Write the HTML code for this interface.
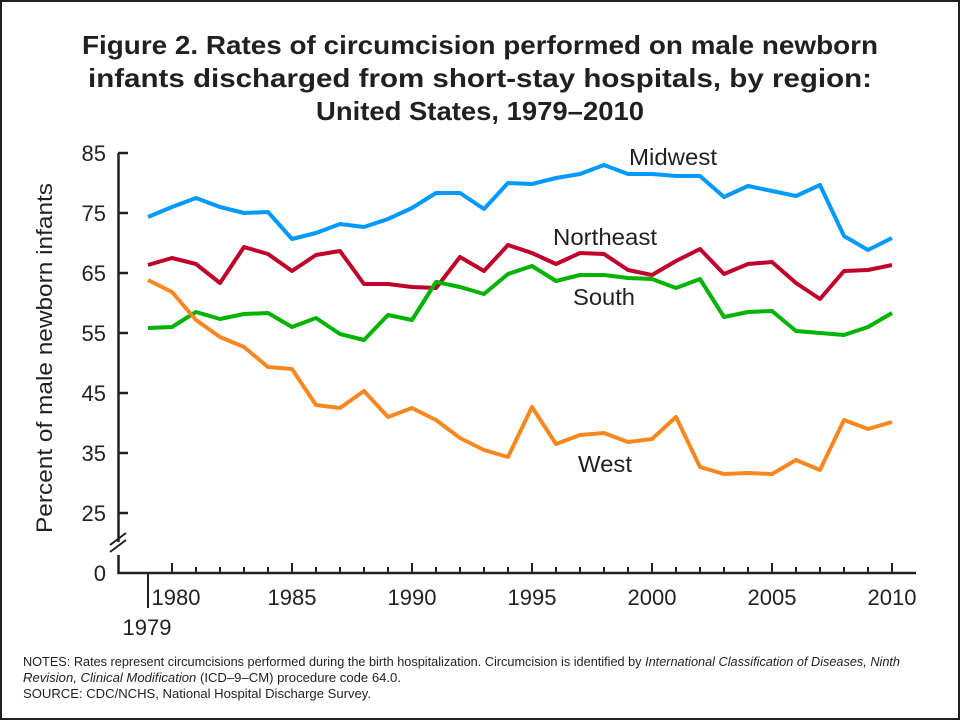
<!DOCTYPE html>
<html><head><meta charset="utf-8"><style>
body{margin:0;background:#fff}
svg{display:block}
text{font-family:"Liberation Sans",Arial,sans-serif;fill:#231f20}
</style></head><body>
<svg width="960" height="720" viewBox="0 0 960 720">
<rect x="1" y="1" width="958" height="718" fill="#fff" stroke="#231f20" stroke-width="2"/>
<g font-weight="bold" font-size="26" text-anchor="middle">
<text x="480" y="54" textLength="796" lengthAdjust="spacingAndGlyphs">Figure 2. Rates of circumcision performed on male newborn</text>
<text x="480" y="87" textLength="784" lengthAdjust="spacingAndGlyphs">infants discharged from short-stay hospitals, by region:</text>
<text x="480" y="120" textLength="328" lengthAdjust="spacingAndGlyphs">United States, 1979–2010</text>
</g>
<g stroke="#231f20" stroke-width="2.5" fill="none">
<path d="M118.5 153V542M118.5 555V573H916"/>
<path d="M110 545l16-12M110 552l16-12" stroke-width="2"/>
<path d="M118 153h10M118 213h10M118 273h10M118 333h10M118 393h10M118 453h10M118 513h10"/>
<path d="M148 573v35" stroke-width="2"/>
</g>
<g font-size="22" text-anchor="end">
<text x="106" y="161">85</text><text x="106" y="221">75</text><text x="106" y="281">65</text>
<text x="106" y="341">55</text><text x="106" y="401">45</text><text x="106" y="461">35</text>
<text x="106" y="521">25</text><text x="106" y="581">0</text>
</g>
<g font-size="22" text-anchor="middle">
<text x="176" y="605">1980</text><text x="292" y="605">1985</text><text x="412" y="605">1990</text>
<text x="532" y="605">1995</text><text x="652" y="605">2000</text><text x="772" y="605">2005</text>
<text x="892" y="605">2010</text><text x="147" y="635">1979</text>
</g>
<text font-size="22" text-anchor="middle" textLength="350" lengthAdjust="spacingAndGlyphs" transform="translate(52,358) rotate(-90)">Percent of male newborn infants</text>
<g fill="none" stroke-width="4" stroke-linejoin="round">
<polyline stroke="#0099ff" points="148,217 172,207 196,198 220,207 244,213 268,212 292,239 316,233 340,224 364,227 388,219 412,208 436,193 460,193 484,209 508,183 532,184 556,178 580,174 604,165 628,174 652,174 676,176 700,176 724,197 748,186 772,191 796,196 820,185 844,236 868,250 892,238"/>
<polyline stroke="#c0002a" points="148,265 172,258 196,264 220,283 244,247 268,254 292,271 316,255 340,251 364,284 388,284 412,287 436,288 460,257 484,271 508,245 532,253 556,264 580,253 604,254 628,270 652,275 676,261 700,249 724,274 748,264 772,262 796,283 820,299 844,271 868,270 892,265"/>
<polyline stroke="#00b300" points="148,328 172,327 196,312 220,319 244,314 268,313 292,327 316,318 340,334 364,340 388,315 412,320 436,282 460,287 484,294 508,274 532,266 556,281 580,275 604,275 628,278 652,279 676,288 700,279 724,317 748,312 772,311 796,331 820,333 844,335 868,327 892,313"/>
<polyline stroke="#f7871f" points="148,280 172,292 196,320 220,337 244,347 268,367 292,369 316,405 340,408 364,391 388,417 412,408 436,420 460,438 484,450 508,457 532,407 556,444 580,435 604,433 628,442 652,439 676,417 700,467 724,474 748,473 772,474 796,460 820,470 844,420 868,429 892,422"/>
</g>
<g font-size="23">
<text x="629" y="165" textLength="88" lengthAdjust="spacingAndGlyphs">Midwest</text>
<text x="553" y="245" textLength="104" lengthAdjust="spacingAndGlyphs">Northeast</text>
<text x="573" y="305" textLength="62" lengthAdjust="spacingAndGlyphs">South</text>
<text x="578" y="472" textLength="54" lengthAdjust="spacingAndGlyphs">West</text>
</g>
<g font-size="13">
<text x="23" y="666" textLength="877" lengthAdjust="spacingAndGlyphs">NOTES: Rates represent circumcisions performed during the birth hospitalization. Circumcision is identified by <tspan font-style="italic">International Classification of Diseases, Ninth</tspan></text>
<text x="23" y="682" textLength="378" lengthAdjust="spacingAndGlyphs"><tspan font-style="italic">Revision, Clinical Modification</tspan> (ICD–9–CM) procedure code 64.0.</text>
<text x="23" y="698" textLength="348" lengthAdjust="spacingAndGlyphs">SOURCE: CDC/NCHS, National Hospital Discharge Survey.</text>
</g>
<path stroke="#231f20" stroke-width="2" d="M172 573v-10M196 573v-6M220 573v-6M244 573v-6M268 573v-6M292 573v-10M316 573v-6M340 573v-6M364 573v-6M388 573v-6M412 573v-10M436 573v-6M460 573v-6M484 573v-6M508 573v-6M532 573v-10M556 573v-6M580 573v-6M604 573v-6M628 573v-6M652 573v-10M676 573v-6M700 573v-6M724 573v-6M748 573v-6M772 573v-10M796 573v-6M820 573v-6M844 573v-6M868 573v-6M892 573v-10"/>
</svg>
</body></html>
